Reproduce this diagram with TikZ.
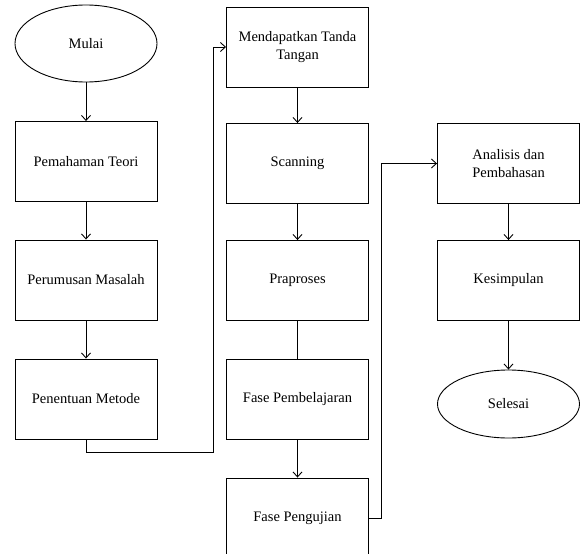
\documentclass[tikz,border=0pt]{standalone}
\usepackage{fontspec}
\setmainfont{Liberation Serif}
\usetikzlibrary{shapes.geometric,arrows.meta}
\begin{document}
\begin{tikzpicture}[x=1pt,y=-1pt,
  every node/.style={font=\fontsize{14.5}{18.5}\selectfont, align=center, inner sep=0pt},
  box/.style={draw, line width=0.9pt, minimum width=142pt, minimum height=80pt},
  term/.style={draw, ellipse, line width=0.9pt, minimum width=142pt},
  line/.style={draw, line width=0.9pt},
  arr/.style={line, -{Straight Barb[length=5pt,width=9pt]}}]
\useasboundingbox (0,0) rectangle (581,554);
% column 1
\node[term, minimum height=77pt] (mulai) at (86,43.5) {Mulai};
\node[box] (teori) at (86,161.5) {Pemahaman Teori};
\node[box] (rumus) at (86,280) {Perumusan Masalah};
\node[box] (metode) at (86,399) {Penentuan Metode};
% column 2
\node[box] (ttd) at (297.5,47) {Mendapatkan Tanda\\Tangan};
\node[box] (scan) at (297.5,163.5) {Scanning};
\node[box] (pra) at (297.5,280.5) {Praproses};
\node[box] (belajar) at (297.5,399) {Fase Pembelajaran};
\node[box] (uji) at (297.5,518) {Fase Pengujian};
% column 3
\node[box] (analisis) at (508.5,163.5) {Analisis dan\\Pembahasan};
\node[box] (simpul) at (508.5,280.5) {Kesimpulan};
\node[term, minimum height=68pt] (selesai) at (508.5,404) {Selesai};
% connectors
\coordinate (c1) at (86,452);
\coordinate (c2) at (213,452);
\coordinate (c3) at (213,47);
\coordinate (d1) at (381,518);
\coordinate (d2) at (381,163.5);
\draw[arr] (mulai) -- (teori);
\draw[arr] (teori) -- (rumus);
\draw[arr] (rumus) -- (metode);
\draw[arr] (metode.south) -- (c1) -- (c2) -- (c3) -- (ttd.west);
\draw[arr] (ttd) -- (scan);
\draw[arr] (scan) -- (pra);
\draw[line] (pra) -- (belajar);
\draw[arr] (belajar) -- (uji);
\draw[arr] (uji.east) -- (d1) -- (d2) -- (analisis.west);
\draw[arr] (analisis) -- (simpul);
\draw[arr] (simpul) -- (selesai);
\end{tikzpicture}
\end{document}
